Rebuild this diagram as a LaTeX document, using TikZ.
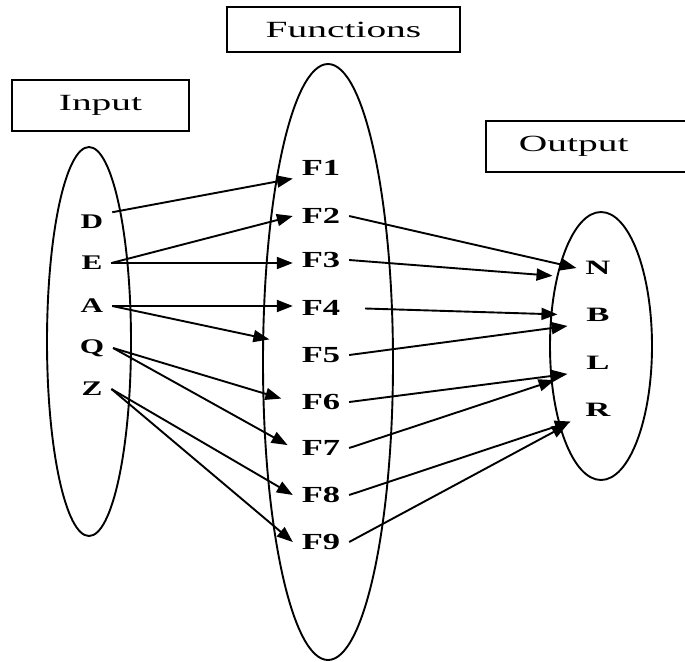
\documentclass[tikz,border=0pt]{standalone}
\usepackage{fontspec}
\setmainfont{Liberation Serif}
\newfontfamily\widefont[FakeStretch=1.7]{Liberation Serif}
\newfontfamily\labelfont[FakeStretch=1.5]{Liberation Serif}
\usetikzlibrary{arrows.meta,shapes.geometric}

\begin{document}
\begin{tikzpicture}[x=0.5pt, y=-0.5pt, line width=0.95pt,
	heading/.style={draw, font=\widefont\fontsize{11.6}{13}\selectfont},
	set/.style={draw, ellipse, inner sep=0pt},
	elem/.style={font=\labelfont\bfseries\fontsize{10.4}{12}\selectfont, inner sep=1pt, outer xsep=3.5pt},
	func/.style={font=\labelfont\bfseries\fontsize{11.5}{13}\selectfont, inner sep=1pt, outer xsep=3.5pt},
	outel/.style={font=\widefont\bfseries\fontsize{10.2}{12}\selectfont, inner sep=1pt, outer xsep=3.5pt},
	map/.style={-{Triangle[length=8pt,width=6pt]}}]
	\clip (0,0) rectangle (685,661);
	\node[heading, minimum width=88.5pt, minimum height=25.5pt] (input) at (100.5,105.5) {Input};
	\node[heading, minimum width=116.5pt, minimum height=22.5pt] (functions) at (343.5,29.5) {Functions};
	\node[heading, anchor=west, text width=70pt, minimum height=25.5pt, inner xsep=16.5pt, align=left] (output) at (485,146.5) {Output};
	\node[set, minimum width=42pt, minimum height=194.5pt] (domain) at (89,341.5) {};
	\node[set, minimum width=65pt, minimum height=298pt] (middle) at (328,362) {};
	\node[set, minimum width=51pt, minimum height=134pt] (range) at (601,346) {};
	\foreach \n/\y in {D/222, E/263, A/306, Q/348, Z/389} {\node[elem] (\n) at (92,\y) {\n};}
	\foreach \i/\y in {1/168, 2/216, 3/260, 4/308, 5/355, 6/402, 7/448, 8/495, 9/542} {\node[func] (F\i) at (321,\y) {F\i};}
	\foreach \n/\y in {N/268, B/315, L/363, R/410} {\node[outel] (\n) at (598,\y) {\n};}
	\draw[map] (D.north east) -- (F1.south west);
	\draw[map] (E.east) -- (F2.west);
	\draw[map] (E.east) -- (E.east -| F3.west);
	\draw[map] (A.east) -- (A.east -| F4.west);
	\draw[map, shorten >=12pt] (A.east) -- (F5.north west);
	\draw[map, shorten >=6pt] (Q.east) -- (F6.west);
	\draw[map, shorten >=3pt] (Q.east) -- (F7.west);
	\draw[map] (Z.east) -- (F8.west);
	\draw[map] (Z.east) -- (F9.west);
	\draw[map] (F2.east) -- (N.west);
	\draw[map, shorten >=12pt] (F3.east) -- (N.south west);
	\draw[map, shorten <=8pt, shorten >=10pt] (F4.east) -- (B.west);
	\draw[map, shorten >=5pt] (F5.east) -- (B.south west);
	\draw[map, shorten >=5pt] (F6.east) -- (L.south west);
	\draw[map, shorten >=12pt] (F7.east) -- (L.south west);
	\draw[map, shorten >=3pt] (F8.east) -- (R.south west);
	\draw[map, shorten >=5pt] (F9.east) -- (R.south west);
\end{tikzpicture}
\end{document}
